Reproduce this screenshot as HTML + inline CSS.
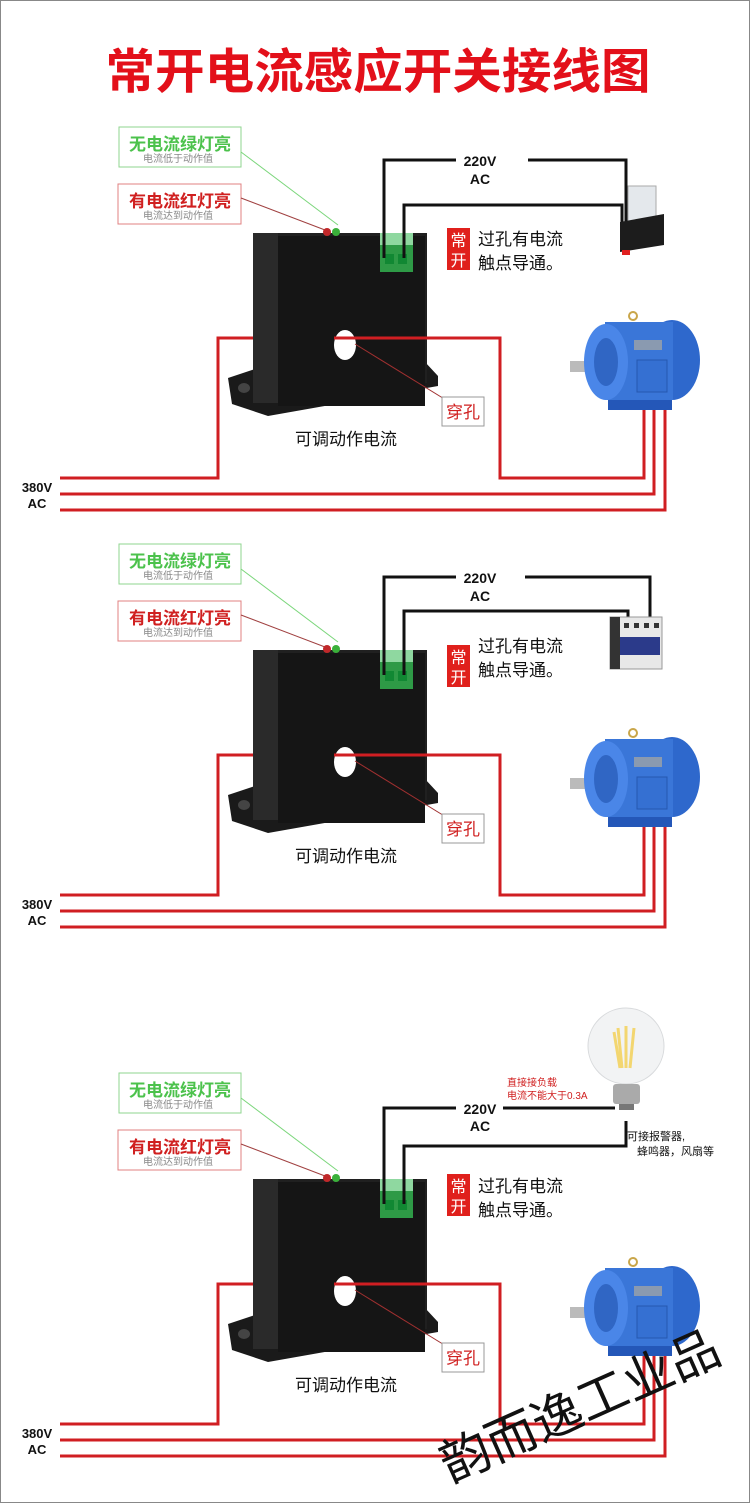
<!DOCTYPE html>
<html><head><meta charset="utf-8"><style>
html,body{margin:0;padding:0;background:#fff}
svg{display:block}
text{font-family:"Liberation Sans","Noto Sans CJK SC",sans-serif}
</style></head><body>
<svg width="750" height="1503" viewBox="0 0 750 1503" xmlns="http://www.w3.org/2000/svg">
<rect x="0.5" y="0.5" width="749" height="1502" fill="#fff" stroke="#888" stroke-width="1"/>
<text x="378" y="88" text-anchor="middle" font-size="48" font-weight="bold" fill="#e3101a" textLength="545" lengthAdjust="spacingAndGlyphs">常开电流感应开关接线图</text>

<!-- ========== PANEL 1 ========== -->
<g>
<rect x="119" y="127" width="122" height="40" fill="#fff" stroke="#8fd68f"/>
<text x="180" y="150" text-anchor="middle" font-size="17" font-weight="bold" fill="#4cc24c">无电流绿灯亮</text>
<text x="178" y="162" text-anchor="middle" font-size="10" fill="#888">电流低于动作值</text>
<rect x="118" y="184" width="123" height="40" fill="#fff" stroke="#e08080"/>
<text x="180" y="207" text-anchor="middle" font-size="17" font-weight="bold" fill="#d02020">有电流红灯亮</text>
<text x="178" y="219" text-anchor="middle" font-size="10" fill="#888">电流达到动作值</text>
<line x1="241" y1="152" x2="338" y2="225" stroke="#7bd67b" stroke-width="1"/>
<line x1="241" y1="198" x2="325" y2="230" stroke="#a04040" stroke-width="1"/>
<polygon points="228,378 258,368 425,362 438,376 438,386 268,416 232,404" fill="#1a1a1a"/>
<ellipse cx="244" cy="388" rx="6" ry="5" fill="#444"/>
<rect x="253" y="233" width="174" height="150" fill="#202020"/>
<rect x="253" y="233" width="25" height="170" fill="#2a2a2a"/>
<rect x="278" y="236" width="147" height="170" fill="#151515"/>
<ellipse cx="345" cy="345" rx="11" ry="15" fill="#fff"/>
<circle cx="327" cy="232" r="4" fill="#c0282a"/>
<circle cx="336" cy="232" r="4" fill="#3ab03a"/>
<rect x="380" y="233" width="33" height="12" fill="#8fd8a0"/>
<rect x="380" y="245" width="33" height="27" fill="#2e9a46"/>
<rect x="385" y="254" width="9" height="10" fill="#183"/>
<rect x="398" y="254" width="9" height="10" fill="#183"/>
<polyline points="384,258 384,160 456,160" fill="none" stroke="#111" stroke-width="3"/>
<polyline points="528,160 626,160 626,240" fill="none" stroke="#111" stroke-width="3"/>
<polyline points="404,258 404,205 622,205 622,240" fill="none" stroke="#111" stroke-width="3"/>
<text x="480" y="166" text-anchor="middle" font-size="14" font-weight="bold" fill="#111">220V</text>
<text x="480" y="184" text-anchor="middle" font-size="14" font-weight="bold" fill="#111">AC</text>
<rect x="628" y="186" width="28" height="36" fill="#e4e8ec" stroke="#aaa"/>
<polygon points="620,222 664,214 664,245 620,252" fill="#1c1c1c"/>
<rect x="622" y="250" width="8" height="5" fill="#e02020"/>
<rect x="447" y="228" width="23" height="42" fill="#e0201c"/>
<text x="458.5" y="246" text-anchor="middle" font-size="16" fill="#fff">常</text>
<text x="458.5" y="266" text-anchor="middle" font-size="16" fill="#fff">开</text>
<text x="478" y="245" font-size="17" fill="#111">过孔有电流</text>
<text x="478" y="269" font-size="17" fill="#111">触点导通。</text>
<polyline points="60,478 218,478 218,338 500,338 500,478 644,478 644,382" fill="none" stroke="#d01e22" stroke-width="3"/>
<rect x="253" y="335" width="25" height="6" fill="#2a2a2a"/><rect x="278" y="335" width="56" height="6" fill="#151515"/>
<polyline points="60,494 654,494 654,382" fill="none" stroke="#d01e22" stroke-width="3"/>
<polyline points="60,510 665,510 665,382" fill="none" stroke="#d01e22" stroke-width="3"/>
<text x="37" y="492" text-anchor="middle" font-size="13" font-weight="bold" fill="#111">380V</text>
<text x="37" y="508" text-anchor="middle" font-size="13" font-weight="bold" fill="#111">AC</text>
<circle cx="633" cy="316" r="4" fill="none" stroke="#c9a64a" stroke-width="2"/>
<rect x="570" y="361" width="22" height="11" fill="#bbb"/>
<rect x="608" y="392" width="64" height="18" fill="#2457b8"/>
<ellipse cx="672" cy="360" rx="28" ry="40" fill="#2e68cc"/>
<rect x="605" y="322" width="68" height="78" fill="#3a76d8"/>
<ellipse cx="606" cy="362" rx="22" ry="38" fill="#4a86e8"/>
<ellipse cx="606" cy="362" rx="12" ry="24" fill="#3066c4"/>
<rect x="634" y="340" width="28" height="10" fill="#8a9ab0"/>
<rect x="637" y="360" width="30" height="32" fill="#3570d2" stroke="#2558b0"/>
<line x1="355" y1="344" x2="446" y2="400" stroke="#a03030" stroke-width="1"/>
<rect x="442" y="397" width="42" height="29" fill="#fff" stroke="#999"/>
<text x="463" y="418" text-anchor="middle" font-size="17" fill="#d02020">穿孔</text>
<text x="346" y="445" text-anchor="middle" font-size="17" fill="#111">可调动作电流</text>
</g>

<!-- ========== PANEL 2 ========== -->
<g transform="translate(0,417)">
<rect x="119" y="127" width="122" height="40" fill="#fff" stroke="#8fd68f"/>
<text x="180" y="150" text-anchor="middle" font-size="17" font-weight="bold" fill="#4cc24c">无电流绿灯亮</text>
<text x="178" y="162" text-anchor="middle" font-size="10" fill="#888">电流低于动作值</text>
<rect x="118" y="184" width="123" height="40" fill="#fff" stroke="#e08080"/>
<text x="180" y="207" text-anchor="middle" font-size="17" font-weight="bold" fill="#d02020">有电流红灯亮</text>
<text x="178" y="219" text-anchor="middle" font-size="10" fill="#888">电流达到动作值</text>
<line x1="241" y1="152" x2="338" y2="225" stroke="#7bd67b" stroke-width="1"/>
<line x1="241" y1="198" x2="325" y2="230" stroke="#a04040" stroke-width="1"/>
<polygon points="228,378 258,368 425,362 438,376 438,386 268,416 232,404" fill="#1a1a1a"/>
<ellipse cx="244" cy="388" rx="6" ry="5" fill="#444"/>
<rect x="253" y="233" width="174" height="150" fill="#202020"/>
<rect x="253" y="233" width="25" height="170" fill="#2a2a2a"/>
<rect x="278" y="236" width="147" height="170" fill="#151515"/>
<ellipse cx="345" cy="345" rx="11" ry="15" fill="#fff"/>
<circle cx="327" cy="232" r="4" fill="#c0282a"/>
<circle cx="336" cy="232" r="4" fill="#3ab03a"/>
<rect x="380" y="233" width="33" height="12" fill="#8fd8a0"/>
<rect x="380" y="245" width="33" height="27" fill="#2e9a46"/>
<rect x="385" y="254" width="9" height="10" fill="#183"/>
<rect x="398" y="254" width="9" height="10" fill="#183"/>
<polyline points="384,258 384,160 456,160" fill="none" stroke="#111" stroke-width="3"/>
<polyline points="525,160 650,160 650,205" fill="none" stroke="#111" stroke-width="3"/>
<polyline points="404,258 404,194 628,194 628,205" fill="none" stroke="#111" stroke-width="3"/>
<text x="480" y="166" text-anchor="middle" font-size="14" font-weight="bold" fill="#111">220V</text>
<text x="480" y="184" text-anchor="middle" font-size="14" font-weight="bold" fill="#111">AC</text>
<rect x="610" y="200" width="52" height="52" fill="#e8e8e8" stroke="#999"/>
<rect x="610" y="200" width="10" height="52" fill="#333"/>
<rect x="620" y="220" width="40" height="18" fill="#2b3a8a"/>
<rect x="624" y="206" width="5" height="5" fill="#333"/><rect x="634" y="206" width="5" height="5" fill="#333"/><rect x="644" y="206" width="5" height="5" fill="#333"/><rect x="654" y="206" width="5" height="5" fill="#333"/>
<rect x="447" y="228" width="23" height="42" fill="#e0201c"/>
<text x="458.5" y="246" text-anchor="middle" font-size="16" fill="#fff">常</text>
<text x="458.5" y="266" text-anchor="middle" font-size="16" fill="#fff">开</text>
<text x="478" y="235" font-size="17" fill="#111">过孔有电流</text>
<text x="478" y="259" font-size="17" fill="#111">触点导通。</text>
<polyline points="60,478 218,478 218,338 500,338 500,478 644,478 644,382" fill="none" stroke="#d01e22" stroke-width="3"/>
<rect x="253" y="335" width="25" height="6" fill="#2a2a2a"/><rect x="278" y="335" width="56" height="6" fill="#151515"/>
<polyline points="60,494 654,494 654,382" fill="none" stroke="#d01e22" stroke-width="3"/>
<polyline points="60,510 665,510 665,382" fill="none" stroke="#d01e22" stroke-width="3"/>
<text x="37" y="492" text-anchor="middle" font-size="13" font-weight="bold" fill="#111">380V</text>
<text x="37" y="508" text-anchor="middle" font-size="13" font-weight="bold" fill="#111">AC</text>
<circle cx="633" cy="316" r="4" fill="none" stroke="#c9a64a" stroke-width="2"/>
<rect x="570" y="361" width="22" height="11" fill="#bbb"/>
<rect x="608" y="392" width="64" height="18" fill="#2457b8"/>
<ellipse cx="672" cy="360" rx="28" ry="40" fill="#2e68cc"/>
<rect x="605" y="322" width="68" height="78" fill="#3a76d8"/>
<ellipse cx="606" cy="362" rx="22" ry="38" fill="#4a86e8"/>
<ellipse cx="606" cy="362" rx="12" ry="24" fill="#3066c4"/>
<rect x="634" y="340" width="28" height="10" fill="#8a9ab0"/>
<rect x="637" y="360" width="30" height="32" fill="#3570d2" stroke="#2558b0"/>
<line x1="355" y1="344" x2="446" y2="400" stroke="#a03030" stroke-width="1"/>
<rect x="442" y="397" width="42" height="29" fill="#fff" stroke="#999"/>
<text x="463" y="418" text-anchor="middle" font-size="17" fill="#d02020">穿孔</text>
<text x="346" y="445" text-anchor="middle" font-size="17" fill="#111">可调动作电流</text>
</g>

<!-- ========== PANEL 3 ========== -->
<g transform="translate(0,946)">
<rect x="119" y="127" width="122" height="40" fill="#fff" stroke="#8fd68f"/>
<text x="180" y="150" text-anchor="middle" font-size="17" font-weight="bold" fill="#4cc24c">无电流绿灯亮</text>
<text x="178" y="162" text-anchor="middle" font-size="10" fill="#888">电流低于动作值</text>
<rect x="118" y="184" width="123" height="40" fill="#fff" stroke="#e08080"/>
<text x="180" y="207" text-anchor="middle" font-size="17" font-weight="bold" fill="#d02020">有电流红灯亮</text>
<text x="178" y="219" text-anchor="middle" font-size="10" fill="#888">电流达到动作值</text>
<line x1="241" y1="152" x2="338" y2="225" stroke="#7bd67b" stroke-width="1"/>
<line x1="241" y1="198" x2="325" y2="230" stroke="#a04040" stroke-width="1"/>
<polygon points="228,378 258,368 425,362 438,376 438,386 268,416 232,404" fill="#1a1a1a"/>
<ellipse cx="244" cy="388" rx="6" ry="5" fill="#444"/>
<rect x="253" y="233" width="174" height="150" fill="#202020"/>
<rect x="253" y="233" width="25" height="170" fill="#2a2a2a"/>
<rect x="278" y="236" width="147" height="170" fill="#151515"/>
<ellipse cx="345" cy="345" rx="11" ry="15" fill="#fff"/>
<circle cx="327" cy="232" r="4" fill="#c0282a"/>
<circle cx="336" cy="232" r="4" fill="#3ab03a"/>
<rect x="380" y="233" width="33" height="12" fill="#8fd8a0"/>
<rect x="380" y="245" width="33" height="27" fill="#2e9a46"/>
<rect x="385" y="254" width="9" height="10" fill="#183"/>
<rect x="398" y="254" width="9" height="10" fill="#183"/>
<polyline points="384,258 384,162 456,162" fill="none" stroke="#111" stroke-width="3"/>
<polyline points="503,162 615,162" fill="none" stroke="#111" stroke-width="3"/>
<polyline points="404,258 404,200 626,200 626,175" fill="none" stroke="#111" stroke-width="3"/>
<text x="480" y="168" text-anchor="middle" font-size="14" font-weight="bold" fill="#111">220V</text>
<text x="480" y="185" text-anchor="middle" font-size="14" font-weight="bold" fill="#111">AC</text>
<text x="507" y="140" font-size="10" fill="#d02020">直接接负载</text>
<text x="507" y="153" font-size="10" fill="#d02020">电流不能大于0.3A</text>
<circle cx="626" cy="100" r="38" fill="#f2f3f4" stroke="#d8dadc"/>
<path d="M618,82 L622,122 M626,80 L626,122 M634,82 L630,122 M614,86 L620,122" stroke="#f3d670" stroke-width="3"/>
<rect x="613" y="138" width="27" height="20" rx="3" fill="#aaa"/>
<rect x="619" y="158" width="15" height="6" fill="#777"/>
<text x="627" y="194" font-size="11" fill="#111">可接报警器,</text>
<text x="637" y="209" font-size="11" fill="#111">蜂鸣器，风扇等</text>
<rect x="447" y="228" width="23" height="42" fill="#e0201c"/>
<text x="458.5" y="246" text-anchor="middle" font-size="16" fill="#fff">常</text>
<text x="458.5" y="266" text-anchor="middle" font-size="16" fill="#fff">开</text>
<text x="478" y="246" font-size="17" fill="#111">过孔有电流</text>
<text x="478" y="270" font-size="17" fill="#111">触点导通。</text>
<polyline points="60,478 218,478 218,338 500,338 500,478 644,478 644,382" fill="none" stroke="#d01e22" stroke-width="3"/>
<rect x="253" y="335" width="25" height="6" fill="#2a2a2a"/><rect x="278" y="335" width="56" height="6" fill="#151515"/>
<polyline points="60,494 654,494 654,382" fill="none" stroke="#d01e22" stroke-width="3"/>
<polyline points="60,510 665,510 665,382" fill="none" stroke="#d01e22" stroke-width="3"/>
<text x="37" y="492" text-anchor="middle" font-size="13" font-weight="bold" fill="#111">380V</text>
<text x="37" y="508" text-anchor="middle" font-size="13" font-weight="bold" fill="#111">AC</text>
<circle cx="633" cy="316" r="4" fill="none" stroke="#c9a64a" stroke-width="2"/>
<rect x="570" y="361" width="22" height="11" fill="#bbb"/>
<rect x="608" y="392" width="64" height="18" fill="#2457b8"/>
<ellipse cx="672" cy="360" rx="28" ry="40" fill="#2e68cc"/>
<rect x="605" y="322" width="68" height="78" fill="#3a76d8"/>
<ellipse cx="606" cy="362" rx="22" ry="38" fill="#4a86e8"/>
<ellipse cx="606" cy="362" rx="12" ry="24" fill="#3066c4"/>
<rect x="634" y="340" width="28" height="10" fill="#8a9ab0"/>
<rect x="637" y="360" width="30" height="32" fill="#3570d2" stroke="#2558b0"/>
<line x1="355" y1="344" x2="446" y2="400" stroke="#a03030" stroke-width="1"/>
<rect x="442" y="397" width="42" height="29" fill="#fff" stroke="#999"/>
<text x="463" y="418" text-anchor="middle" font-size="17" fill="#d02020">穿孔</text>
<text x="346" y="445" text-anchor="middle" font-size="17" fill="#111">可调动作电流</text>
</g>
<text x="0" y="0" font-size="50" fill="#111" font-family="'Noto Serif CJK SC','Liberation Serif',serif" transform="translate(450,1483) rotate(-24)" textLength="300" lengthAdjust="spacingAndGlyphs">韵而逸工业品</text>
</svg>
</body></html>
